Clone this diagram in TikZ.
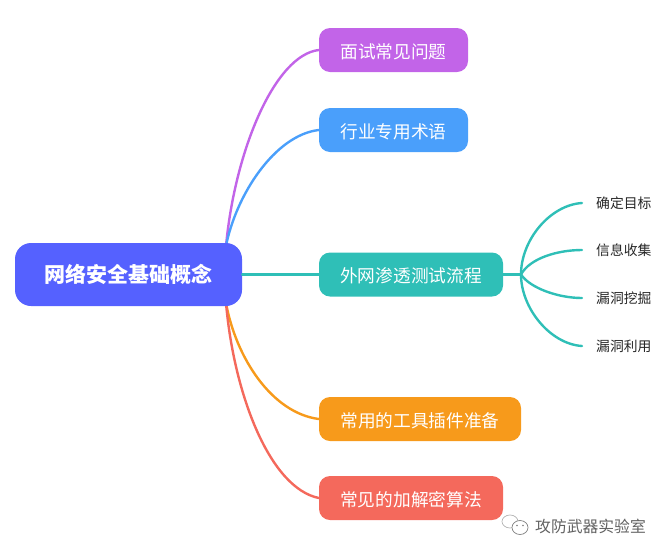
\documentclass[tikz,border=0pt]{standalone}
\usepackage{fontspec}
\setmainfont{Noto Sans CJK SC}
\usetikzlibrary{positioning}
\definecolor{rootblue}{HTML}{5561FF}
\definecolor{mpurple}{HTML}{C264E8}
\definecolor{mblue}{HTML}{4A9FFB}
\definecolor{mteal}{HTML}{2FBFB7}
\definecolor{morange}{HTML}{F79A1B}
\definecolor{mred}{HTML}{F4695C}
\tikzset{root node/.style={rectangle,rounded corners=16pt,fill=rootblue,text=white,font=\fontsize{21pt}{24pt}\selectfont\bfseries,minimum width=227pt,minimum height=63pt,inner sep=0pt},
	main node/.style={rectangle,rounded corners=11pt,text=white,font=\fontsize{17.7pt}{20pt}\selectfont,minimum height=44pt,inner sep=0pt,text height=17pt,text depth=1pt},
	leaf node/.style={anchor=west,inner sep=0pt,inner xsep=14pt,text=black!85,font=\fontsize{13.8pt}{16pt}\selectfont},
	link/.style={line width=2.4pt,line cap=round},
	mark text/.style={text=black!62,font=\fontsize{15.8pt}{18pt}\selectfont,inner sep=0pt},
}

\begin{document}
\begin{tikzpicture}[x=1pt,y=-1pt]
	\useasboundingbox (0,0) rectangle (668,555);
	
	\coordinate (up) at (226,246);
	\coordinate (down) at (226,303);
	\coordinate (split) at (521,274.5);
	
	\node[main node,fill=mpurple,minimum width=149pt] (q) at (393.5,50) {面试常见问题};
	\node[main node,fill=mblue,minimum width=149pt] (term) at (393.5,130) {行业专用术语};
	\node[main node,fill=mteal,minimum width=184pt] (flow) at (411,274.5) {外网渗透测试流程};
	\node[main node,fill=morange,minimum width=202pt] (tool) at (420,419) {常用的工具插件准备};
	\node[main node,fill=mred,minimum width=184pt] (algo) at (411,498) {常见的加解密算法};
	
	\node[leaf node] (l1) at (582,203) {确定目标};
	\node[leaf node] (l2) at (582,250) {信息收集};
	\node[leaf node] (l3) at (582,298) {漏洞挖掘};
	\node[leaf node] (l4) at (582,346) {漏洞利用};
	
	% branches from the root
	\draw[link,mpurple] (up) .. controls (235,150) and (275,55) .. (q.west);
	\draw[link,mblue] (up) .. controls (236,195) and (275,135) .. (term.west);
	\draw[link,morange] (down) .. controls (236,358) and (272,413) .. (tool.west);
	\draw[link,mred] (down) .. controls (234,395) and (270,488) .. (algo.west);
	
	\node[root node] (root) at (128.5,274.5) {网络安全基础概念};
	\draw[link,mteal] (root.east) -- (flow.west);
	
	% leaves
	\draw[link,mteal] (flow.east) -- (split);
	\draw[link,mteal] (split) .. controls (521,240) and (550,205) .. (l1.west);
	\draw[link,mteal] (split) .. controls (530,258) and (558,250) .. (l2.west);
	\draw[link,mteal] (split) .. controls (530,288) and (558,298) .. (l3.west);
	\draw[link,mteal] (split) .. controls (521,308) and (550,344) .. (l4.west);
	
	% watermark
	\draw[black!30,line width=.7pt] (510,521.5) ellipse (8pt and 6.5pt);
	\draw[black!50,fill=white,line width=.7pt] (520,527.5) ellipse (8pt and 7pt);
	\fill[black!50] (517,525.5) circle (.8pt) (523,525.5) circle (.8pt);
	\node[mark text,anchor=west] (mark) at (535,526) {攻防武器实验室};
\end{tikzpicture}
\end{document}
